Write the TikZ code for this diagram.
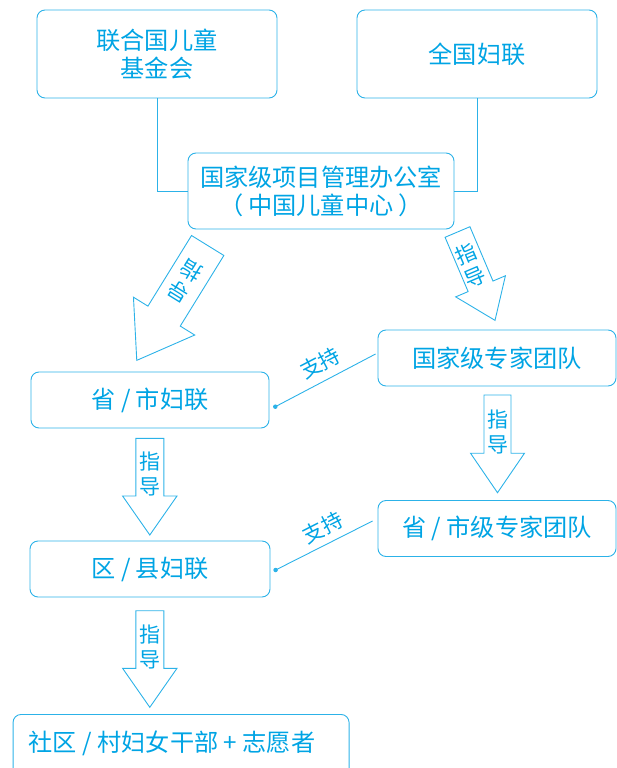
\documentclass[tikz,border=0pt]{standalone}
\usepackage{fontspec}
\setmainfont{Noto Sans CJK SC}
\definecolor{tc}{RGB}{0,164,228}
\definecolor{lc}{RGB}{44,178,232}
\newcommand\blockarr[7]{%
  \begin{scope}[shift={#2}, rotate=#3]
    \draw[barrow] (0,-#5) -- ({#4-#7},-#5) -- ({#4-#7},-#6) -- (#4,0)
      -- ({#4-#7},#6) -- ({#4-#7},#5) -- (0,#5) -- cycle;
    \coordinate (#1) at (0,0);
  \end{scope}}
\begin{document}
\begin{tikzpicture}[x=1pt,y=-1pt,
  box/.style={draw=lc, line width=0.9pt, rounded corners=8pt, text=tc,
    font=\fontsize{24.2}{28}\selectfont, align=center, inner sep=0pt},
  lbl/.style={text=tc, font=\fontsize{21}{25}\selectfont, align=center, inner sep=0pt},
  supl/.style={text=tc, font=\fontsize{21}{24}\selectfont, inner sep=0pt},
  conn/.style={draw=lc, line width=0.9pt},
  barrow/.style={draw=lc, line width=0.9pt, line join=miter},
  dotn/.style={circle, fill=lc, inner sep=0pt, minimum size=4.5pt}]
\useasboundingbox (0,0) rectangle (617,768);
\clip (0,0) rectangle (617,768);

% boxes
\node[box, minimum width=240pt, minimum height=88pt] (unicef) at (157,54) {联合国儿童\\基金会};
\node[box, minimum width=240pt, minimum height=88pt] (acwf) at (477,54) {全国妇联};
\node[box, minimum width=266pt, minimum height=76pt] (office) at (321,191) {国家级项目管理办公室\\（\hspace{5pt}中国儿童中心\hspace{5pt}）};
\node[box, minimum width=238pt, minimum height=56pt] (prov) at (150,400) {省 / 市妇联};
\node[box, minimum width=240pt, minimum height=56pt] (county) at (150,569) {区 / 县妇联};
\node[box, minimum width=238pt, minimum height=56pt] (exp1) at (497,358) {国家级专家团队};
\node[box, minimum width=238pt, minimum height=56pt] (exp2) at (497,528.5) {省 / 市级专家团队};
\node[box, minimum width=336pt, minimum height=62pt, anchor=north west] (comm) at (12.6,714) {};
\node[text=tc, font=\fontsize{24.2}{28}\selectfont, inner sep=0pt] (commt) at (172,743) {社区 / 村妇女干部 + 志愿者};

% connectors from top boxes
\draw[conn] (unicef.south) |- (office.west);
\draw[conn] (acwf.south) |- (office.east);

% block arrows
\blockarr{a1}{(207.7,245.5)}{238.3}{135}{19}{36}{52}
\blockarr{a2}{(457.5,232)}{-67}{96}{13.5}{27}{37}
\blockarr{a3}{(497.5,395)}{-90}{97.7}{13.5}{27}{39.5}
\blockarr{a4}{(149.8,438.3)}{-90}{96.7}{14}{27.2}{39}
\blockarr{a5}{(149.8,610.7)}{-90}{96.6}{14}{27.2}{39}

\node[lbl, rotate=148.3] (l1) at (185.5,280.8) {导\\指};
\node[lbl, rotate=23] (l2) at (470.5,265.3) {指\\导};
\node[lbl] (l3) at (497.5,431.5) {指\\导};
\node[lbl] (l4) at (150,474) {指\\导};
\node[lbl] (l5) at (150,646.7) {指\\导};

% support lines
\path (exp1.west) ++(-2,-4) coordinate (s1a);
\node[dotn] (d1) at (275.3,406.7) {};
\draw[conn] (s1a) -- (d1.center);
\node[supl, rotate=27.5] (t1) at (320,363) {支持};

\path (exp2.west) ++(-5,-7.5) coordinate (s2a);
\node[dotn] (d2) at (275.6,570) {};
\draw[conn] (s2a) -- (d2.center);
\node[supl, rotate=27] (t2) at (323,527.5) {支持};
\end{tikzpicture}
\end{document}
